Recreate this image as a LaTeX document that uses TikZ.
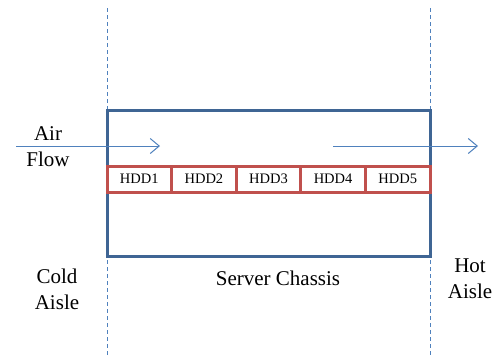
\documentclass[tikz,border=0pt]{standalone}
\usepackage{fontspec}
\setmainfont{Liberation Serif}
\usetikzlibrary{arrows.meta,positioning}

\definecolor{chassisblue}{HTML}{3F6594}
\definecolor{hddred}{HTML}{C0504D}
\definecolor{flowblue}{HTML}{4F81BD}

\begin{document}
\begin{tikzpicture}[x=1pt,y=-1pt,>={Straight Barb[length=9pt,width=15pt]},
        hdd/.style={draw=hddred,line width=3pt,outer sep=0pt,inner sep=0pt,
                    minimum width=64.6pt,minimum height=26pt,font=\fontsize{14.5}{15}\selectfont},
        chassis/.style={draw=chassisblue,line width=3pt,outer sep=0pt,
                    minimum width=323pt,minimum height=146pt},
        aisle/.style={draw=flowblue,line width=0.8pt,dash pattern=on 4pt off 3pt},
        flow/.style={->,draw=flowblue,line width=1pt},
        label/.style={align=center,font=\fontsize{21}{26}\selectfont}]

  \useasboundingbox (0,0) rectangle (499,356);

  % aisle borders
  \coordinate (cold_top) at (107,8);
  \coordinate (cold_bot) at (107,356);
  \coordinate (hot_top) at (430,8);
  \coordinate (hot_bot) at (430,356);
  \draw[aisle] (cold_top) -- (cold_bot);
  \draw[aisle] (hot_top) -- (hot_bot);

  \node[chassis] (chassis) at (268.5,183) {};

  \node[hdd] (hdd_1) at (139.3,179) {HDD1};
  \node[hdd] (hdd_2) [right=0pt of hdd_1] {HDD2};
  \node[hdd] (hdd_3) [right=0pt of hdd_2] {HDD3};
  \node[hdd] (hdd_4) [right=0pt of hdd_3] {HDD4};
  \node[hdd] (hdd_5) [right=0pt of hdd_4] {HDD5};

  % air flow
  \coordinate (in_start) at (16,146);
  \coordinate (in_end) at (160,146);
  \coordinate (out_start) at (333,146);
  \coordinate (out_end) at (478,146);
  \draw[flow] (in_start) -- (in_end);
  \draw[flow] (out_start) -- (out_end);

  \node[label] (air) at (48,147) {Air\\Flow};
  \node[label] (cold) at (57,289) {Cold\\Aisle};
  \node[label] (hot) at (470,279) {Hot\\Aisle};
  \node[label] (server) at (278,278) {Server Chassis};

\end{tikzpicture}
\end{document}
